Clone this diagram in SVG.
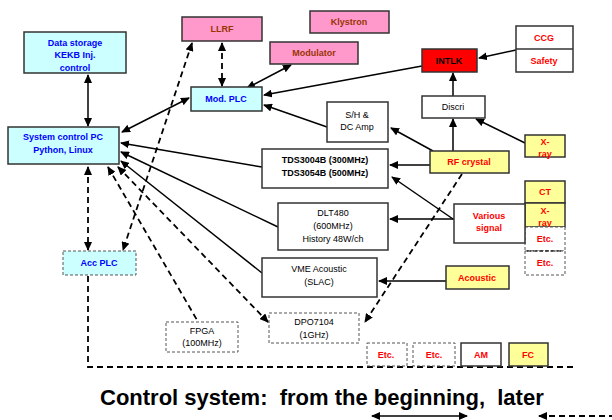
<svg xmlns="http://www.w3.org/2000/svg" width="612" height="420" viewBox="0 0 612 420">
<style>
  .bx{stroke:#333;stroke-width:1.5}
  .cy{fill:#ccffff}
  .pk{fill:#ff99cc}
  .yl{fill:#ffff99}
  .wh{fill:#ffffff}
  .rd{fill:#ff0000}
  .dsh{stroke-dasharray:3,2;stroke:#555;stroke-width:1}
  text{font-family:"Liberation Sans",Arial,sans-serif;font-size:9px;font-weight:bold;text-anchor:middle}
  .tb{fill:#0000ff}
  .tr{fill:#ff0000}
  .tm{fill:#993300}
  .tk{fill:#000;font-weight:normal}
  .ln{stroke:#000;stroke-width:1.5;fill:none}
  .dl{stroke:#000;stroke-width:1.8;fill:none;stroke-dasharray:6,4}
</style>
<defs>
  <marker id="ah" markerWidth="9" markerHeight="8" refX="8" refY="4" orient="auto-start-reverse" markerUnits="userSpaceOnUse">
    <path d="M0,0 L9,4 L0,8 Z" fill="#000"/>
  </marker>
</defs>
<rect width="612" height="420" fill="#fff"/>

<g id="connectors">
  <line class="ln" x1="88" y1="75" x2="88" y2="126" stroke-width="2" marker-start="url(#ah)" marker-end="url(#ah)"/>
  <line class="ln" x1="189" y1="98" x2="122" y2="132" marker-start="url(#ah)" marker-end="url(#ah)"/>
  <line class="dl" x1="192" y1="43" x2="123" y2="250" marker-start="url(#ah)" marker-end="url(#ah)"/>
  <line class="dl" x1="222" y1="43" x2="222" y2="86" marker-start="url(#ah)" marker-end="url(#ah)"/>
  <line class="ln" x1="291" y1="65" x2="247" y2="88" marker-start="url(#ah)" marker-end="url(#ah)"/>
  <line class="ln" x1="422" y1="66" x2="264" y2="95" marker-end="url(#ah)"/>
  <line class="ln" x1="327" y1="127" x2="264" y2="105" marker-end="url(#ah)"/>
  <line class="ln" x1="516" y1="50" x2="479" y2="58" marker-end="url(#ah)"/>
  <line class="ln" x1="453" y1="96" x2="453" y2="73" stroke-width="1" marker-end="url(#ah)"/>
  <line class="ln" x1="453" y1="151" x2="453" y2="119" marker-end="url(#ah)"/>
  <line class="ln" x1="525" y1="143" x2="476" y2="119" marker-end="url(#ah)"/>
  <line class="ln" x1="433" y1="151" x2="391" y2="128" marker-end="url(#ah)"/>
  <line class="ln" x1="430" y1="165" x2="390" y2="165" marker-end="url(#ah)"/>
  <line class="ln" x1="453" y1="219" x2="392" y2="177" marker-end="url(#ah)"/>
  <line class="ln" x1="454" y1="219" x2="390" y2="219" marker-end="url(#ah)"/>
  <line class="ln" x1="446" y1="281" x2="379" y2="281" marker-end="url(#ah)"/>
  <line class="ln" x1="262" y1="167" x2="121" y2="143" marker-end="url(#ah)"/>
  <line class="ln" x1="278" y1="227" x2="121" y2="152" marker-end="url(#ah)"/>
  <line class="ln" x1="262" y1="273" x2="121" y2="161" marker-end="url(#ah)"/>
  <line class="dl" x1="462" y1="174" x2="365" y2="322" marker-end="url(#ah)"/>
  <line class="dl" x1="88" y1="167" x2="88" y2="250" marker-start="url(#ah)" marker-end="url(#ah)"/>
  <line class="dl" x1="108" y1="167" x2="197" y2="320" marker-start="url(#ah)"/>
  <line class="dl" x1="118" y1="167" x2="268" y2="322" marker-start="url(#ah)" marker-end="url(#ah)"/>
  <polyline class="dl" points="88,276 88,367 575,367"/>
  <line class="ln" x1="372" y1="416" x2="467" y2="416" marker-start="url(#ah)" marker-end="url(#ah)"/>
  <line class="dl" x1="539" y1="416" x2="618" y2="416" marker-start="url(#ah)"/>
</g>

<g id="data-storage">
  <rect class="bx cy" x="24" y="32" width="102" height="41"/>
  <text class="tb" x="75" y="46">Data storage</text>
  <text class="tb" x="75" y="58">KEKB Inj.</text>
  <text class="tb" x="75" y="71">control</text>
</g>
<g id="system-pc">
  <rect class="bx cy" x="8" y="127" width="111" height="37" stroke="#000" stroke-width="2"/>
  <text class="tb" x="63" y="140">System control PC</text>
  <text class="tb" x="63" y="153">Python,  Linux</text>
</g>
<g id="llrf">
  <rect class="bx pk" x="182" y="17" width="80" height="24"/>
  <text class="tm" x="222" y="32">LLRF</text>
</g>
<g id="klystron">
  <rect class="bx pk" x="310" y="11" width="79" height="22" stroke="#000"/>
  <text class="tm" x="349" y="25">Klystron</text>
</g>
<g id="modulator">
  <rect class="bx pk" x="270" y="42" width="88" height="22"/>
  <text class="tm" x="314" y="56">Modulator</text>
</g>
<g id="mod-plc">
  <rect class="bx cy" x="191" y="87" width="71" height="24"/>
  <text class="tb" x="226" y="102">Mod. PLC</text>
</g>
<g id="sh-dcamp">
  <rect class="bx wh" x="327" y="102" width="61" height="40"/>
  <text class="tk" x="357" y="118">S/H &amp;</text>
  <text class="tk" x="357" y="130">DC Amp</text>
</g>
<g id="intlk">
  <rect class="bx rd" x="422" y="49" width="55" height="23"/>
  <text x="449" y="64" fill="#000">INTLK</text>
</g>
<g id="ccg-safety">
  <rect class="bx wh" x="516" y="26" width="57" height="46"/>
  <line x1="516" y1="49" x2="573" y2="49" stroke="#333" stroke-width="1.5"/>
  <text class="tr" x="544" y="41">CCG</text>
  <text class="tr" x="544" y="64">Safety</text>
</g>
<g id="discri">
  <rect class="bx wh" x="422" y="96" width="63" height="22"/>
  <text class="tk" x="453" y="110">Discri</text>
</g>
<g id="tds">
  <rect class="bx wh" x="262" y="149" width="126" height="39"/>
  <text x="325" y="163" fill="#000">TDS3004B (300MHz)</text>
  <text x="325" y="176" fill="#000">TDS3054B (500MHz)</text>
</g>
<g id="dlt480">
  <rect class="bx wh" x="278" y="203" width="110" height="47"/>
  <text class="tk" x="333" y="216">DLT480</text>
  <text class="tk" x="333" y="229">(600MHz)</text>
  <text class="tk" x="333" y="242">History 48W/ch</text>
</g>
<g id="vme-acoustic">
  <rect class="bx wh" x="262" y="258" width="115" height="39"/>
  <text class="tk" x="319" y="272">VME Acoustic</text>
  <text class="tk" x="319" y="285">(SLAC)</text>
</g>
<g id="rf-crystal">
  <rect class="bx yl" x="430" y="151" width="79" height="22"/>
  <text class="tr" x="469" y="165">RF crystal</text>
</g>
<g id="xray1">
  <rect class="bx yl" x="525" y="135" width="40" height="22"/>
  <text class="tr" x="545" y="145">X-</text>
  <text class="tr" x="545" y="157">ray</text>
</g>
<g id="ct">
  <rect class="bx yl" x="525" y="181" width="40" height="22" stroke="#000"/>
  <text class="tr" x="545" y="195">CT</text>
</g>
<g id="xray2">
  <rect class="bx yl" x="525" y="203" width="40" height="24" stroke="#000"/>
  <text class="tr" x="545" y="214">X-</text>
  <text class="tr" x="545" y="226">ray</text>
</g>
<g id="etc-r1">
  <rect class="dsh" fill="#fff" x="525" y="227" width="40" height="24"/>
  <text class="tr" x="545" y="242">Etc.</text>
</g>
<g id="etc-r2">
  <rect class="dsh" fill="#fff" x="525" y="251" width="40" height="24"/>
  <line x1="527" y1="251" x2="563" y2="251" stroke="#000" stroke-width="1.2" stroke-dasharray="4,2"/>
  <text class="tr" x="545" y="266">Etc.</text>
</g>
<g id="various-signal">
  <rect class="bx wh" x="454" y="204" width="71" height="39"/>
  <text class="tr" x="489" y="219">Various</text>
  <text class="tr" x="489" y="231">signal</text>
</g>
<g id="acoustic">
  <rect class="bx yl" x="446" y="266" width="63" height="23"/>
  <text class="tr" x="477" y="281">Acoustic</text>
</g>
<g id="acc-plc">
  <rect class="dsh cy" x="63" y="251" width="73" height="24" stroke="#333" stroke-width="1.3"/>
  <text class="tb" x="99" y="266">Acc PLC</text>
</g>
<g id="fpga">
  <rect class="dsh" fill="#fff" x="166" y="322" width="72" height="30"/>
  <text class="tk" x="202" y="334">FPGA</text>
  <text class="tk" x="202" y="346">(100MHz)</text>
</g>
<g id="dpo7104">
  <rect class="dsh" fill="#fff" x="269" y="313" width="90" height="30"/>
  <text class="tk" x="314" y="325">DPO7104</text>
  <text class="tk" x="314" y="338">(1GHz)</text>
</g>
<g id="etc-b1">
  <rect class="dsh" fill="#fff" x="367" y="343" width="40" height="23"/>
  <text class="tr" x="386" y="358">Etc.</text>
</g>
<g id="etc-b2">
  <rect class="dsh" fill="#fff" x="413" y="343" width="42" height="23"/>
  <text class="tr" x="434" y="358">Etc.</text>
</g>
<g id="am">
  <rect class="bx wh" x="461" y="343" width="40" height="23"/>
  <text class="tr" x="481" y="358">AM</text>
</g>
<g id="fc">
  <rect class="bx yl" x="509" y="343" width="39" height="23"/>
  <text class="tr" x="528" y="358">FC</text>
</g>

<text x="100" y="405" style="font-size:22px;text-anchor:start;fill:#000" xml:space="preserve">Control system:  from the beginning,  later</text>
</svg>
